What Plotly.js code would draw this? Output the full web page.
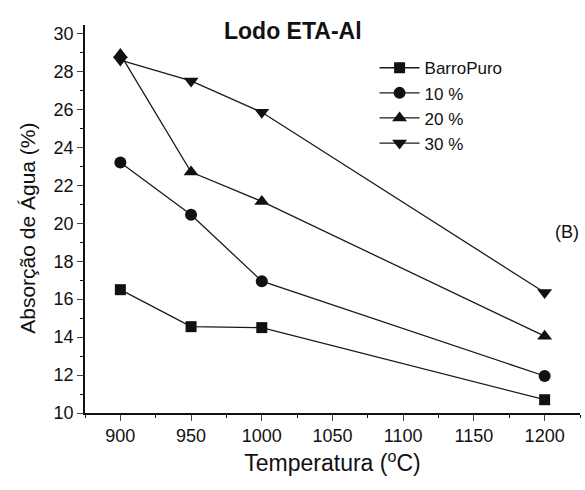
<!DOCTYPE html>
<html>
<head>
<meta charset="utf-8">
<script src="https://cdn.plot.ly/plotly-3.0.1.min.js"></script>
<style>html,body{margin:0;padding:0;background:#fff;}#chart{width:585px;height:490px;}</style>
</head>
<body>
<div id="chart"></div>
<script>
const temperatures = [900, 950, 1000, 1200];
const seriesNames = ["BarroPuro", "10 %", "20 %", "30 %"];
const barroPuro = [16.5, 14.55, 14.5, 10.7];
const pct10 = [23.2, 20.45, 16.95, 11.95];
const pct20 = [28.9, 22.7, 21.15, 14.05];
const pct30 = [28.6, 27.5, 25.85, 16.35];
const xTicks = [900, 950, 1000, 1050, 1100, 1150, 1200];
const yTicks = [10, 12, 14, 16, 18, 20, 22, 24, 26, 28, 30];

const symbols = ["square", "circle", "triangle-up", "triangle-down"];
const sizes = [11, 12, 13, 13];
const allY = [barroPuro, pct10, pct20, pct30];
const traces = allY.map((ys, i) => ({
  x: temperatures, y: ys, name: seriesNames[i], type: "scatter", mode: "lines+markers",
  line: {color: "#1a1a1a", width: 1.3},
  marker: {symbol: symbols[i], size: sizes[i], color: "#111"}
}));

const font = "Arial, 'Liberation Sans', sans-serif";
const layout = {
  width: 585, height: 490,
  margin: {l: 85, r: 5, t: 25, b: 77},
  paper_bgcolor: "#fff", plot_bgcolor: "#fff",
  font: {family: font, color: "#111"},
  showlegend: true,
  legend: {x: 0.585, y: 0.935, xanchor: "left", yanchor: "top", font: {size: 17, family: font},
    itemwidth: 40, tracegroupgap: 0, bgcolor: "rgba(0,0,0,0)"},
  xaxis: {range: [875, 1225], tickvals: xTicks, ticks: "outside", ticklen: 6, tickwidth: 1.3,
    minor: {dtick: 25, ticks: "outside", ticklen: 3, tickcolor: "#111"},
    showgrid: false, zeroline: false, showline: true, linecolor: "#111", linewidth: 1.5,
    tickfont: {size: 18}, title: {text: "Temperatura (<sup>o</sup>C)", font: {size: 23}, standoff: 10}},
  yaxis: {range: [10, 30.45], tickvals: yTicks, ticks: "outside", ticklen: 6, tickwidth: 1.3,
    minor: {dtick: 1, ticks: "outside", ticklen: 3, tickcolor: "#111"},
    showgrid: false, zeroline: false, showline: true, linecolor: "#111", linewidth: 1.5,
    tickfont: {size: 18}},
  annotations: [
    {text: "<b>Lodo ETA-Al</b>", xref: "paper", yref: "paper", x: 0.42, y: 0.985, xanchor: "center", yanchor: "middle",
      showarrow: false, font: {size: 23, family: font}},
    {text: "(B)", xref: "x", yref: "y", x: 1206, y: 19.55, xanchor: "left", yanchor: "middle",
      showarrow: false, font: {size: 18, family: font}},
    {text: "Absorção de Água (%)", xref: "paper", yref: "paper", x: -0.115, y: 0.475, xanchor: "center", yanchor: "middle",
      textangle: -90, showarrow: false, font: {size: 21, family: font}}
  ]
};
Plotly.newPlot("chart", traces, layout, {displayModeBar: false});
</script>
</body>
</html>
